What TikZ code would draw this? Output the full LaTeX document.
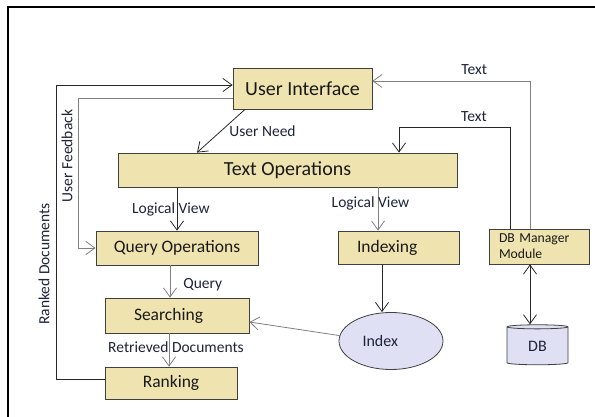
\documentclass[tikz,border=0pt]{standalone}
\usepackage{fontspec}
\setmainfont{Carlito}
\usetikzlibrary{arrows.meta,shapes.geometric,positioning}

\definecolor{boxfill}{RGB}{239,228,176}
\definecolor{storefill}{RGB}{224,224,244}
\definecolor{boxline}{RGB}{64,64,64}
\definecolor{labeltext}{RGB}{28,36,58}
\definecolor{linegray}{RGB}{128,128,128}
\definecolor{lineblack}{RGB}{40,40,40}

\begin{document}
\begin{tikzpicture}[x=1pt, y=-1pt,
  >={Straight Barb[length=9pt,width=13pt]},
  basic/.style  = {draw=boxline, fill=boxfill, rectangle, inner sep=0pt, line width=0.8pt, text=black!90},
  main/.style   = {basic, font=\fontsize{20}{24}\selectfont},
  module/.style = {basic, font=\fontsize{17.5}{21}\selectfont},
  store/.style  = {draw=boxline, fill=storefill, line width=0.8pt, inner sep=0pt, text=labeltext, font=\fontsize{16}{19}\selectfont},
  lbl/.style    = {text=labeltext, inner sep=0pt, font=\fontsize{15.5}{18}\selectfont},
  link/.style   = {->, line width=0.8pt, draw=linegray},
  dark/.style   = {->, line width=0.8pt, draw=lineblack}]

	\useasboundingbox (0,0) rectangle (595,417);
	% page frame, top and left edges only
	\draw[line width=2.5pt] (8,417) -- (8,7) -- (595,7);

	% the main boxes
	\node[main, minimum width=139pt, minimum height=41pt] (ui) at (302.5,88.5) {User Interface};
	\node[main, minimum width=339pt, minimum height=34pt] (textops) at (287.5,170) {Text Operations};

	% the modules below, relatively small boxes
	\node[module, minimum width=162pt, minimum height=34pt] (qops) at (177,248) {Query Operations};
	\node[module, minimum height=35pt, align=left, inner xsep=29pt, text width=86pt] (search) at (177,315.5) {Searching};
	\node[module, minimum width=132pt, minimum height=32pt] (rank) at (171,383) {Ranking};
	\node[module, minimum height=33pt, align=left, inner xsep=19pt, text width=83pt] (idx) at (398.5,247.5) {Indexing};
	\node[basic, minimum height=35pt, align=left, inner xsep=10pt, text width=80pt,
	      font=\fontsize{13.7}{16}\selectfont] (dbm) at (539,246.5) {DB Manager\\Module};

	% the stores
	\node[store, ellipse, minimum width=104pt, minimum height=57pt, align=left, text width=57pt] (index) at (391,341) {Index};
	\node[store, cylinder, shape border rotate=90, aspect=0.22,
	      minimum width=61pt, minimum height=40pt] (db) at (537.5,346) {DB};

	% lines from the user interface down to the text operations
	\draw[dark] ([xshift=-57.5pt]ui.south) -- node[lbl, midway, anchor=west, xshift=8pt] {User Need} ([xshift=-90.5pt]textops.north);
	\draw[link] ([xshift=-9pt]dbm.north) |- node[lbl, pos=0.677, anchor=south, yshift=6pt] {Text} ([yshift=7.5pt]ui.east);
	\draw[dark] ([xshift=-29pt]dbm.north) |- node[lbl, pos=0.662, anchor=south, yshift=6pt] {Text} ([xshift=111.5pt, yshift=25pt]textops.north)
	  -- ([xshift=111.5pt]textops.north);

	% logical views
	\draw[dark] (qops.north |- textops.south) -- node[lbl, midway, xshift=-6pt] {Logical View} (qops.north);
	\draw[link] ([xshift=-20.5pt]idx.north |- textops.south) -- node[lbl, midway, xshift=-7.5pt, yshift=6pt] {Logical View} ([xshift=-20.5pt]idx.north);

	% the search chain
	\draw[link] ([xshift=-7pt]qops.south) -- node[lbl, midway, anchor=west, xshift=13pt, yshift=-3.5pt] {Query} ([xshift=-7pt]qops.south |- search.north);
	\draw[link] ([xshift=-8pt]search.south) -- node[lbl, midway, xshift=7pt, yshift=3pt] {Retrieved Documents} ([xshift=-8pt]search.south |- rank.north);
	\draw[dark] ([xshift=-16.5pt]idx.south) -- ([xshift=-16.5pt]idx.south |- index.north);
	\draw[link] (index.174) -- ([yshift=-6.5pt]search.east);
	\draw[dark, <->] ([xshift=-9pt]dbm.south) -- ([xshift=-9pt]dbm.south |- db.north);

	% feedback loops on the left
	\draw[dark] ([yshift=4pt]rank.west) -- ++(-48,0) |- ([yshift=3.5pt]ui.west);
	\draw[link] ([yshift=-9.5pt]ui.west) -- ++(-154,0) |- (qops.west);
	\node[lbl, rotate=90] (rankedlbl) at (44,264) {Ranked Documents};
	\node[lbl, rotate=90] (feedbacklbl) at (67,156) {User Feedback};
\end{tikzpicture}
\end{document}
